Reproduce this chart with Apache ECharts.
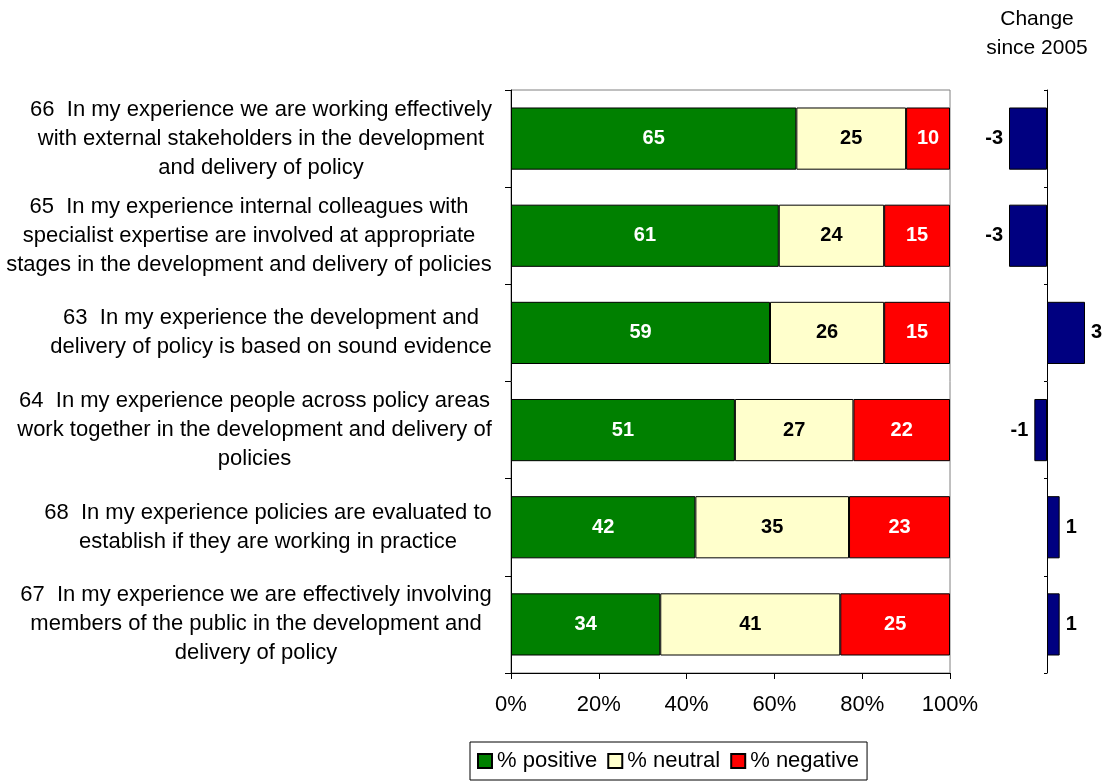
<!DOCTYPE html>
<html>
<head>
<meta charset="utf-8">
<script src="https://cdn.jsdelivr.net/npm/echarts@6/dist/echarts.min.js"></script>
<style>
  html, body { margin: 0; padding: 0; background: #fff; }
  #chart { width: 1107px; height: 781px; }
</style>
</head>
<body>
<div id="chart"></div>
<script>
// Survey statements, top to bottom
const questions = [
  ['66  In my experience we are working effectively', 'with external stakeholders in the development', 'and delivery of policy'],
  ['65  In my experience internal colleagues with', 'specialist expertise are involved at appropriate', 'stages in the development and delivery of policies'],
  ['63  In my experience the development and', 'delivery of policy is based on sound evidence'],
  ['64  In my experience people across policy areas', 'work together in the development and delivery of', 'policies'],
  ['68  In my experience policies are evaluated to', 'establish if they are working in practice'],
  ['67  In my experience we are effectively involving', 'members of the public in the development and', 'delivery of policy']
];
const categories = questions.map(q => q.join('\n'));

const positive = [65, 61, 59, 51, 42, 34];
const neutral  = [25, 24, 26, 27, 35, 41];
const negative = [10, 15, 15, 22, 23, 25];
const change   = [-3, -3, 3, -1, 1, 1];

const percentTicks = ['0%', '20%', '40%', '60%', '80%', '100%'];

const FONT = '"Liberation Sans", Arial, sans-serif';
const LABEL_SIZE = 22;

// Each label block is centred on its own widest line
const ctx = document.createElement('canvas').getContext('2d');
ctx.font = LABEL_SIZE + 'px "Liberation Sans"';
const rich = {};
questions.forEach((lines, i) => {
  const w = Math.ceil(Math.max(...lines.map(l => ctx.measureText(l).width)));
  rich['q' + i] = { width: w, align: 'center', fontSize: LABEL_SIZE, fontFamily: FONT, color: '#000', lineHeight: 29 };
});

const chart = echarts.init(document.getElementById('chart'));

const barBorder = { borderColor: '#000', borderWidth: 1 };
const valueLabel = color => ({
  show: true, position: 'inside', color: color, fontWeight: 'bold',
  fontSize: 20, fontFamily: FONT
});

chart.setOption({
  animation: false,
  title: {
    text: 'Change\nsince 2005',
    left: 1032, top: 0, textAlign: 'center',
    textStyle: { fontSize: 21, fontWeight: 'normal', fontFamily: FONT, color: '#000', lineHeight: 29 }
  },
  legend: {
    left: 470, top: 742,
    padding: [8, 8, 8, 7],
    itemGap: 10, itemWidth: 14, itemHeight: 14,
    borderColor: '#000', borderWidth: 1,
    icon: 'rect',
    textStyle: { fontSize: 22, fontFamily: FONT, color: '#000' },
    data: ['% positive', '% neutral', '% negative']
  },
  grid: [
    { left: 511, right: 157, top: 90, bottom: 108, show: true, borderColor: '#808080', borderWidth: 1, backgroundColor: 'transparent' },
    { left: 1009, width: 76, top: 90, bottom: 108 }
  ],
  xAxis: [
    {
      gridIndex: 0, type: 'value', min: 0, max: 100, interval: 20,
      axisLine: { show: true, lineStyle: { color: '#000' } },
      axisTick: { show: true, length: 6, lineStyle: { color: '#000' } },
      splitLine: { show: false },
      axisLabel: {
        formatter: v => percentTicks[v / 20],
        fontSize: 22, fontFamily: FONT, color: '#000', margin: 21
      }
    },
    {
      gridIndex: 1, type: 'value', min: -3, max: 3,
      show: false
    }
  ],
  yAxis: [
    {
      gridIndex: 0, type: 'category', data: categories, inverse: true,
      axisLine: { show: true, lineStyle: { color: '#000' } },
      axisTick: { show: true, length: 6, lineStyle: { color: '#000' } },
      axisLabel: {
        margin: 19,
        formatter: (v, i) => questions[i].map(l => '{q' + i + '|' + l + '}').join('\n'),
        rich: rich
      }
    },
    {
      gridIndex: 1, type: 'category', data: categories, inverse: true,
      axisLine: { show: true, onZero: true, lineStyle: { color: '#000' } },
      axisTick: { show: true, length: 3, lineStyle: { color: '#000' } },
      axisLabel: { show: false }
    }
  ],
  series: [
    {
      name: '% positive', type: 'bar', stack: 'all', barWidth: '64%',
      xAxisIndex: 0, yAxisIndex: 0, data: positive,
      itemStyle: Object.assign({ color: '#008000' }, barBorder),
      label: valueLabel('#fff')
    },
    {
      name: '% neutral', type: 'bar', stack: 'all', barWidth: '64%',
      xAxisIndex: 0, yAxisIndex: 0, data: neutral,
      itemStyle: Object.assign({ color: '#FFFFCC' }, barBorder),
      label: valueLabel('#000')
    },
    {
      name: '% negative', type: 'bar', stack: 'all', barWidth: '64%',
      xAxisIndex: 0, yAxisIndex: 0, data: negative,
      itemStyle: Object.assign({ color: '#FF0000' }, barBorder),
      label: valueLabel('#fff')
    },
    {
      name: 'change', type: 'bar', barWidth: '64%',
      xAxisIndex: 1, yAxisIndex: 1,
      data: change.map(v => ({
        value: v,
        label: { position: v < 0 ? 'left' : 'right' }
      })),
      itemStyle: Object.assign({ color: '#000080' }, barBorder),
      label: {
        show: true, distance: 6, color: '#000', fontWeight: 'bold',
        fontSize: 20, fontFamily: FONT
      }
    }
  ]
});
</script>
</body>
</html>
